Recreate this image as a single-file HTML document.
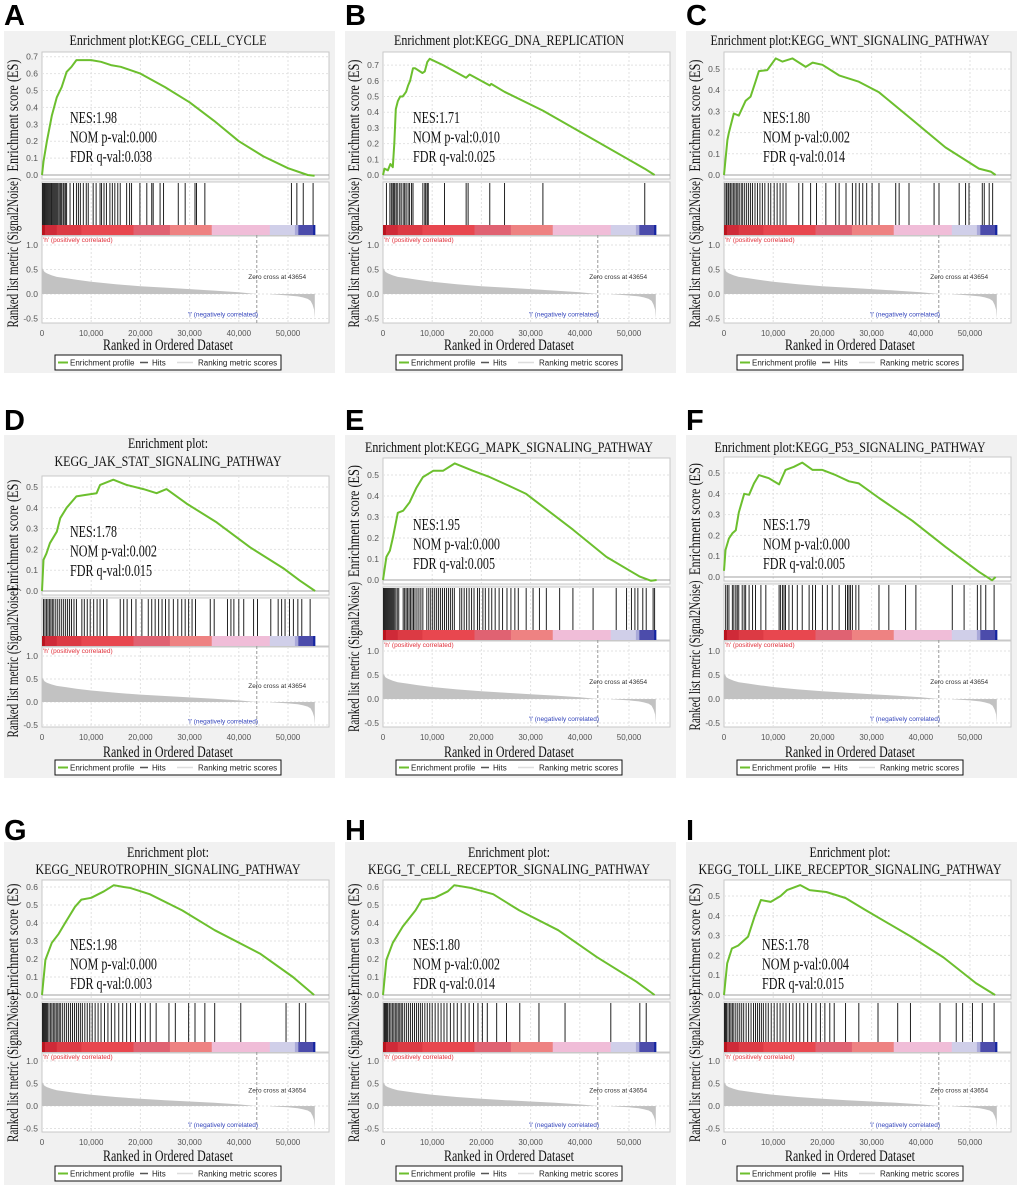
<!DOCTYPE html>
<html><head><meta charset="utf-8">
<style>
html,body{margin:0;padding:0;background:#fff;}
svg{display:block;}
</style></head>
<body>
<svg id="fig" xmlns="http://www.w3.org/2000/svg" width="1020" height="1187" viewBox="0 0 1020 1187"></svg>
<script>
// ===== shared data (ranks in thousands) =====
const xTickVals=[0,10,20,30,40,50];
const xTickLabels=['0','10,000','20,000','30,000','40,000','50,000'];
const rankTickVals=[1.0,0.5,0.0,-0.5];
const rankTickLabels=['1.0','0.5','0.0','-0.5'];
const metricPosRank=[0,0.2,0.5,1,2,3,5,7,10,15,20,25,30,35,40,43.654];
const metricPosVal=[0.55,0.5,0.45,0.42,0.38,0.35,0.32,0.29,0.25,0.2,0.16,0.13,0.1,0.07,0.035,0];
const metricNegRank=[46.4,48,50,52,53,54,54.6,55,55.3,55.45];
const metricNegVal=[-0.005,-0.015,-0.03,-0.05,-0.07,-0.1,-0.14,-0.22,-0.32,-0.5];
const zeroCross=43.654;
const barStart=[0,0.6,3,8,18.6,26,34.5,46.3,51.4,52.1,55.1];
const barEnd=[0.6,3,8,18.6,26,34.5,46.3,51.4,52.1,55.1,55.5];
const barColor=['#b8141e','#cf2a38','#dc3a44','#e8474f','#e06272','#ee8282','#f0bdd8','#d0cfe9','#a9a9d9','#4c4cab','#1424a0'];

// ===== panel data =====
const esA_rank=[0,0.3,1,2,3,4,5,6,7,8,10,12,14,16,18,20,25,30,35,40,45,50,54,55.4];
const esA_val=[0,0.08,0.2,0.35,0.46,0.52,0.61,0.64,0.68,0.68,0.68,0.67,0.65,0.64,0.62,0.6,0.52,0.43,0.32,0.2,0.11,0.04,0.0,-0.005];
const hitsA=[0.1,0.3,0.5,0.6,0.8,1.0,1.2,1.3,1.5,1.7,1.9,2.0,2.2,2.4,2.6,2.8,3.0,3.1,3.3,3.6,3.8,4.0,4.3,4.5,4.8,5.0,5.7,6.4,7.0,7.4,7.8,8.4,9.0,9.4,10.4,11.0,11.8,12.1,12.6,13.1,13.8,14.3,14.8,15.4,15.9,17.2,17.8,18.2,19.9,21.3,22.3,22.6,24.0,24.7,27.7,29.1,31.1,31.4,33.1,50.7,51.8,53.1,55.1];

const esB_rank=[0,0.3,1,1.5,2,2.3,2.6,3,3.5,4,4.7,5.1,5.5,6.1,6.5,8,8.5,9,9.5,12.2,16.9,17.6,21.7,22,24.7,32.5,53.2,55.2];
const esB_val=[0,0.04,0.03,0.07,0.05,0.2,0.42,0.47,0.5,0.5,0.53,0.57,0.6,0.68,0.68,0.65,0.66,0.72,0.74,0.7,0.62,0.64,0.57,0.58,0.53,0.41,0.04,0];
const hitsB=[0.7,1.4,1.7,2.0,2.2,2.4,2.7,3.0,3.4,3.7,4.1,4.4,4.7,5.1,5.4,5.8,6.1,8.1,8.5,8.7,9.0,9.2,12.5,16.9,17.3,21.7,24.7,32.5,53.2];

const esC_rank=[0,0.7,1.0,2.0,3.0,4.4,5.4,6.4,7.1,8.8,10.5,11.9,13.9,16.6,18,20,23.4,27.4,31.5,38.3,45,51.8,54.2,55.2];
const esC_val=[0,0.165,0.2,0.29,0.28,0.35,0.37,0.44,0.49,0.495,0.55,0.535,0.55,0.51,0.53,0.52,0.47,0.44,0.39,0.26,0.13,0.03,0.016,0];
const hitsC=[0.2,0.5,0.8,1.0,1.3,1.6,1.9,2.2,2.5,2.8,3.1,3.5,3.8,4.2,4.6,5.0,5.4,5.8,6.3,6.8,7.3,7.8,8.3,9.0,9.5,10.2,10.8,11.4,12.0,12.6,15.2,16.0,17.6,18.8,20.7,22.7,23.4,24.8,26.1,26.8,27.5,28.2,29.0,30.1,31.5,34.9,35.6,37.6,42.7,43.7,47.8,49.1,49.8,52.5,52.9,53.9,54.6];

const esD_rank=[0,0.3,0.9,1.6,3.0,3.7,5.0,7.0,8.4,11.1,11.8,14.5,17.2,20.6,23.3,25.3,29.4,35.5,42.3,49,52.4,55.5];
const esD_val=[0,0.15,0.18,0.23,0.285,0.35,0.4,0.455,0.46,0.47,0.51,0.535,0.51,0.49,0.47,0.49,0.42,0.33,0.21,0.11,0.05,0];
const hitsD=[0.3,0.6,0.9,1.2,1.5,1.8,2.1,2.4,2.8,3.2,3.6,4.0,4.4,4.8,5.2,5.6,6.0,6.5,7.0,8.1,8.6,9.2,9.8,10.5,11.2,11.8,12.5,13.2,15.9,16.6,17.3,18.2,19.1,20.3,21.6,22.3,23.0,23.7,24.4,25.1,25.8,26.7,27.6,28.4,29.1,29.8,30.5,31.2,34.2,35.0,37.7,38.4,39.0,40.0,41.0,43.0,43.8,46.5,48.0,48.7,49.4,50.3,51.1,52.0,52.8,54.5];

const esE_rank=[0,0.7,1.4,2.0,3.0,4.1,5.4,6.8,8.1,10.2,12.2,14.6,18.3,21.7,26.4,29.1,38.6,45.4,52.2,54.5,55.6];
const esE_val=[0,0.11,0.14,0.2,0.32,0.33,0.37,0.44,0.49,0.52,0.52,0.555,0.52,0.49,0.44,0.41,0.24,0.11,0.016,-0.004,0];
const hitsE=[0.1,0.3,0.5,0.7,0.9,1.1,1.3,1.5,1.7,1.9,2.1,2.3,2.6,2.9,3.2,4.1,4.4,4.7,5.0,5.3,5.6,5.9,6.2,6.5,6.9,7.3,7.7,8.1,8.9,9.3,9.7,10.1,10.5,10.9,11.3,11.7,12.1,12.5,12.9,13.3,13.7,14.1,14.5,15.6,16.0,16.5,17.0,17.5,18.0,18.5,19.2,19.6,20.3,20.8,21.5,22.1,22.8,23.6,24.3,25.2,26.0,26.8,27.5,29.1,30.5,31.8,33.2,35.9,38.6,42.7,47.4,49.5,50.5,51.2,51.8,52.8,53.5,54.9,55.2];

const esF_rank=[0,0.3,1.0,1.7,2.4,3.0,4.1,5.1,6.1,7.1,9.1,11.2,12.5,14.2,15.9,18,20,22.7,25.4,27.4,31.5,38.3,45,51.8,54.5,55.2];
const esF_val=[0.03,0.13,0.185,0.21,0.225,0.31,0.4,0.395,0.45,0.49,0.475,0.445,0.515,0.53,0.55,0.515,0.515,0.49,0.46,0.45,0.38,0.27,0.145,0.025,-0.016,0];
const hitsF=[0.34,0.68,1.0,1.7,2.0,2.4,2.7,3.0,3.7,4.1,4.4,5.1,5.8,6.4,7.5,8.5,11.2,11.5,11.9,12.2,12.5,13.2,13.9,14.9,15.9,17.3,18.0,18.6,20.0,21.0,22.0,23.4,24.7,25.1,25.4,25.7,26.1,26.8,27.4,31.5,33.5,36.9,39.0,46.4,48.8,51.5,52.2,53.2,54.9];

const esG_rank=[0,0.7,2.0,3.4,4.7,6.7,8.0,10,12.6,14.6,16.6,17.9,21.9,28.5,35.1,44.3,51,55.3];
const esG_val=[0,0.195,0.29,0.34,0.4,0.49,0.53,0.54,0.576,0.61,0.6,0.595,0.56,0.47,0.36,0.23,0.1,0];
const hitsG=[0.1,0.3,0.5,0.7,0.9,1.1,1.4,1.7,2.0,2.3,2.6,2.9,3.2,3.5,3.8,4.2,4.6,5.0,5.4,5.8,6.2,6.6,7.0,7.4,7.8,8.2,8.7,9.2,9.7,10.2,10.8,11.4,12.0,12.7,13.4,14.1,14.8,15.6,16.4,17.2,18.0,19.0,20.0,21.0,22.0,23.2,25.8,27.1,29.8,31.1,33.1,35.1,40.4,49.6,52.3,53.6];

const esH_rank=[0,0.7,2.0,4.0,6.6,7.9,10.5,13.2,14.5,17.8,22.4,27.7,35.6,43.5,51.5,55.2];
const esH_val=[0,0.195,0.29,0.38,0.47,0.53,0.54,0.576,0.61,0.595,0.56,0.47,0.36,0.21,0.074,0];
const hitsH=[0.2,0.4,0.6,0.8,1.0,1.3,1.6,1.9,2.2,2.5,2.8,3.1,3.4,3.7,4.0,4.4,4.8,5.2,5.6,6.0,6.4,6.8,7.2,7.6,8.0,8.5,9.0,9.5,10.0,10.6,11.2,11.8,12.4,13.0,13.7,14.4,15.1,15.9,16.7,17.5,18.4,19.3,20.2,21.2,23.1,25.1,27.8,31.7,37.0,46.3,52.2,53.5];

const esI_rank=[0,0.66,1.6,2.9,4.9,6.2,7.5,9.5,11.5,12.8,15.5,17.4,20.8,24.7,28.7,38,44.6,51.2,55.1];
const esI_val=[0,0.16,0.235,0.25,0.295,0.395,0.48,0.47,0.5,0.53,0.555,0.53,0.52,0.49,0.43,0.295,0.19,0.06,0];
const hitsI=[0.1,0.3,0.5,0.8,1.1,1.4,1.7,2.0,2.4,2.8,3.2,3.6,4.0,4.5,5.0,5.5,6.0,6.4,6.8,7.2,7.6,8.0,8.5,9.0,9.6,10.2,10.8,11.4,12.0,12.6,13.3,14.0,14.7,15.4,16.2,17.0,17.8,18.7,19.6,20.5,21.5,22.4,24.7,27.4,31.3,35.3,37.9,43.9,47.2,48.5,50.5,52.5,54.9];

const statsNES=['1.98','1.71','1.80','1.78','1.95','1.79','1.98','1.80','1.78'];
const statsNOM=['0.000','0.010','0.002','0.002','0.000','0.000','0.000','0.002','0.004'];
const statsFDR=['0.038','0.025','0.014','0.015','0.005','0.005','0.003','0.014','0.015'];

// ===== layout =====
const rowLayout=[
 {bgTop:31,bgBot:373,titleY:[45],rankBot:323,xlabY:336,xtitleY:350,legTop:355,nesY:123,letterY:25},
 {bgTop:435,bgBot:778,titleY:[452],rankBot:727,xlabY:740,xtitleY:757,legTop:760,nesY:530,letterY:430},
 {bgTop:842,bgBot:1185,titleY:[857,874],rankBot:1132,xlabY:1145,xtitleY:1161,legTop:1166,nesY:950,letterY:840}
];
const panels=[
 {L:'A',col:0,row:0,title:['Enrichment plot:KEGG_CELL_CYCLE'],tw:[197],esTop:52,zero:175,ppu:169,maxTick:0.7,barTop:225,rank0:294,rppu:49,nesX:70,es:[esA_rank,esA_val],hits:hitsA},
 {L:'B',col:1,row:0,title:['Enrichment plot:KEGG_DNA_REPLICATION'],tw:[230],esTop:52,zero:175,ppu:157,maxTick:0.7,barTop:225,rank0:294,rppu:49,nesX:72,es:[esB_rank,esB_val],hits:hitsB},
 {L:'C',col:2,row:0,title:['Enrichment plot:KEGG_WNT_SIGNALING_PATHWAY'],tw:[279],esTop:52,zero:175,ppu:212,maxTick:0.5,barTop:225,rank0:294,rppu:49,nesX:81,es:[esC_rank,esC_val],hits:hitsC},
 {L:'D',col:0,row:1,title:['Enrichment plot:','KEGG_JAK_STAT_SIGNALING_PATHWAY'],tw:[80,227],ty:[448,466],esTop:476,zero:591,ppu:208,maxTick:0.5,barTop:636,rank0:702,rppu:46,nesX:70,nesY:537,es:[esD_rank,esD_val],hits:hitsD},
 {L:'E',col:1,row:1,title:['Enrichment plot:KEGG_MAPK_SIGNALING_PATHWAY'],tw:[288],esTop:458,zero:580,ppu:210,maxTick:0.5,barTop:630,rank0:699,rppu:48,nesX:72,es:[esE_rank,esE_val],hits:hitsE},
 {L:'F',col:2,row:1,title:['Enrichment plot:KEGG_P53_SIGNALING_PATHWAY'],tw:[271],esTop:457,zero:577,ppu:208,maxTick:0.5,barTop:630,rank0:699,rppu:48,nesX:81,es:[esF_rank,esF_val],hits:hitsF},
 {L:'G',col:0,row:2,title:['Enrichment plot:','KEGG_NEUROTROPHIN_SIGNALING_PATHWAY'],tw:[82,265],esTop:880,zero:995,ppu:180,maxTick:0.6,barTop:1042,rank0:1106,rppu:45,nesX:70,es:[esG_rank,esG_val],hits:hitsG},
 {L:'H',col:1,row:2,title:['Enrichment plot:','KEGG_T_CELL_RECEPTOR_SIGNALING_PATHWAY'],tw:[82,282],esTop:880,zero:995,ppu:180,maxTick:0.6,barTop:1042,rank0:1106,rppu:45,nesX:72,es:[esH_rank,esH_val],hits:hitsH},
 {L:'I',col:2,row:2,title:['Enrichment plot:','KEGG_TOLL_LIKE_RECEPTOR_SIGNALING_PATHWAY'],tw:[81,303],esTop:880,zero:995,ppu:198,maxTick:0.5,barTop:1042,rank0:1106,rppu:45,nesX:80,es:[esI_rank,esI_val],hits:hitsI}
];
const colX=[0,341,682];

const NS='http://www.w3.org/2000/svg';
const svg=document.getElementById('fig');
function mk(tag,parent,attrs){const e=document.createElementNS(NS,tag);for(const k in attrs)e.setAttribute(k,attrs[k]);parent.appendChild(e);return e;}
function txt(parent,s,attrs){const e=mk('text',parent,attrs);e.textContent=s;return e;}

const SERIF='"Liberation Serif", serif', SANS='"Liberation Sans", sans-serif';

panels.forEach((p,pi)=>{
 const R=rowLayout[p.row], ox=colX[p.col];
 const L=ox+42, Rt=ox+329;
 const xs=r=>L+r*4.92;
 const ye=v=>p.zero-v*p.ppu;
 const yr=v=>p.rank0-v*p.rppu;
 const g=mk('g',svg,{});
 
 

 const lt=txt(g,p.L,{x:ox+4,y:R.letterY,'font-family':SANS,'font-weight':'bold','font-size':29,fill:'#000'});
 
 

 const bg=mk('rect',g,{x:ox+4,y:R.bgTop,width:331,height:R.bgBot-R.bgTop,fill:'#f1f1f1'});
 
 

 p.title.forEach((t,i)=>{
  const ty=p.ty?p.ty[i]:R.titleY[i];
  const te=txt(g,t,{x:ox+168,y:ty,'text-anchor':'middle','font-family':SERIF,'font-size':15,textLength:p.tw[i],lengthAdjust:'spacingAndGlyphs',fill:'#111'});
  
  
 });

 const esBot=p.zero+4, hitsTop=p.zero+7, barBot=p.barTop+10, rTop=barBot+1;
 const pe=mk('rect',g,{x:L,y:p.esTop,width:Rt-L,height:esBot-p.esTop,fill:'#fff',stroke:'#c8c8c8','stroke-width':1});
 
 
 const ph=mk('rect',g,{x:L,y:hitsTop,width:Rt-L,height:barBot-hitsTop,fill:'#fff',stroke:'#c8c8c8','stroke-width':1});
 
 
 const pr=mk('rect',g,{x:L,y:rTop,width:Rt-L,height:R.rankBot-rTop,fill:'#fff',stroke:'#c8c8c8','stroke-width':1});
 
 

 xTickVals.forEach(v=>{if(v===0)return;
  [[p.esTop,esBot],[hitsTop,p.barTop],[rTop,R.rankBot]].forEach(s=>{
   const gl=mk('line',g,{x1:xs(v),x2:xs(v),y1:s[0],y2:s[1],stroke:'#e2e2e2','stroke-dasharray':'2,2'});
   
   
  });
 });
 for(let i=1;i*0.1<=p.maxTick+1e-9;i++){
  const gl=mk('line',g,{x1:L,x2:Rt,y1:ye(i*0.1),y2:ye(i*0.1),stroke:'#e2e2e2','stroke-dasharray':'2,2'});
  
  
 }
 rankTickVals.forEach(v=>{
  const gl=mk('line',g,{x1:L,x2:Rt,y1:yr(v),y2:yr(v),stroke:'#e2e2e2','stroke-dasharray':'2,2'});
  
  
 });
 const zl=mk('line',g,{x1:L,x2:Rt,y1:ye(0),y2:ye(0),stroke:'#a0a0a0'});
 
 

 for(let i=0;i*0.1<=p.maxTick+1e-9;i++){
  const t=txt(g,(i*0.1).toFixed(1),{x:L-4,y:ye(i*0.1)+3,'text-anchor':'end','font-family':SANS,'font-size':8.5,fill:'#555'});
  
  
 }
 rankTickVals.forEach((v,i)=>{
  const t=txt(g,rankTickLabels[i],{x:L-4,y:yr(v)+3,'text-anchor':'end','font-family':SANS,'font-size':8.5,fill:'#555'});
  
  
 });
 xTickVals.forEach((v,i)=>{
  const t=txt(g,xTickLabels[i],{x:xs(v),y:R.xlabY,'text-anchor':'middle','font-family':SANS,'font-size':8,fill:'#555'});
  
  
 });

 const [er,ev]=p.es;
 let d='';er.forEach((r,i)=>{d+=(i?'L':'M')+xs(r).toFixed(1)+','+ye(ev[i]).toFixed(1);});
 const ep=mk('path',g,{d:d,fill:'none',stroke:'#6cbf2e','stroke-width':2,'stroke-linejoin':'round'});
 
 

 p.hits.forEach(h=>{
  const hl=mk('line',g,{x1:xs(h),x2:xs(h),y1:hitsTop+1,y2:p.barTop,stroke:'#222','stroke-width':1});
  
  
 });

 barStart.forEach((s,i)=>{
  const br=mk('rect',g,{x:xs(s),y:p.barTop,width:xs(barEnd[i])-xs(s)+0.3,height:10,fill:barColor[i]});
  
  
 });
 const hp=txt(g,"'h' (positively correlated)",{x:L+1,y:barBot+7,'font-family':SANS,'font-size':6.5,fill:'#e0303a'});
 
 

 let m='M'+xs(metricPosRank[0])+','+yr(0);
 metricPosRank.forEach((r,i)=>{m+='L'+xs(r).toFixed(1)+','+yr(metricPosVal[i]).toFixed(1);});
 m+='Z M'+xs(metricNegRank[0])+','+yr(0);
 metricNegRank.forEach((r,i)=>{m+='L'+xs(r).toFixed(1)+','+yr(metricNegVal[i]).toFixed(1);});
 m+='L'+xs(metricNegRank[metricNegRank.length-1]).toFixed(1)+','+yr(0)+'Z';
 const ma=mk('path',g,{d:m,fill:'#c2c2c2'});
 
 
 const zc=mk('line',g,{x1:xs(zeroCross),x2:xs(zeroCross),y1:barBot,y2:R.rankBot,stroke:'#999','stroke-dasharray':'3,2'});
 
 
 const zt=txt(g,'Zero cross at 43654',{x:xs(47.8),y:yr(0.35)+2,'text-anchor':'middle','font-family':SANS,'font-size':6.5,fill:'#333'});
 
 
 const nl=txt(g,"'l' (negatively correlated)",{x:xs(36.8),y:yr(-0.42)+2,'text-anchor':'middle','font-family':SANS,'font-size':6.5,fill:'#3344bb'});
 
 

 const ny=p.nesY||R.nesY;
 const s1=txt(g,'NES:'+statsNES[pi],{x:ox+p.nesX,y:ny,'font-family':SERIF,'font-size':17,textLength:47,lengthAdjust:'spacingAndGlyphs',fill:'#111'});
 
 
 const s2=txt(g,'NOM p-val:'+statsNOM[pi],{x:ox+p.nesX,y:ny+19.5,'font-family':SERIF,'font-size':17,textLength:87,lengthAdjust:'spacingAndGlyphs',fill:'#111'});
 
 
 const s3=txt(g,'FDR q-val:'+statsFDR[pi],{x:ox+p.nesX,y:ny+39,'font-family':SERIF,'font-size':17,textLength:82,lengthAdjust:'spacingAndGlyphs',fill:'#111'});
 
 

 const esMid=(p.esTop+esBot)/2;
 const yt1=txt(g,'Enrichment score (ES)',{x:0,y:0,transform:'translate('+(ox+18)+','+esMid+') rotate(-90)','text-anchor':'middle','font-family':SERIF,'font-size':16,textLength:112,lengthAdjust:'spacingAndGlyphs',fill:'#111'});
 
 
 const yt2=txt(g,'Ranked list metric (Signal2Noise)',{x:0,y:0,transform:'translate('+(ox+18)+','+(hitsTop+R.rankBot)/2+') rotate(-90)','text-anchor':'middle','font-family':SERIF,'font-size':16,textLength:150,lengthAdjust:'spacingAndGlyphs',fill:'#111'});
 
 
 const xt=txt(g,'Ranked in Ordered Dataset',{x:ox+168,y:R.xtitleY,'text-anchor':'middle','font-family':SERIF,'font-size':16,textLength:130,lengthAdjust:'spacingAndGlyphs',fill:'#111'});
 
 

 const lg=mk('g',g,{});
 
 
 const ly=R.legTop;
 mk('rect',lg,{x:ox+55,y:ly,width:226,height:15,fill:'#fff',stroke:'#111','stroke-width':1});
 const l1=mk('line',lg,{x1:ox+58,x2:ox+68,y1:ly+7.5,y2:ly+7.5,stroke:'#6cbf2e','stroke-width':2});
 
 
 const lt1=txt(lg,'Enrichment profile',{x:ox+70,y:ly+10.5,'font-family':SANS,'font-size':8,fill:'#222'});
 
 
 const l2=mk('line',lg,{x1:ox+140,x2:ox+148,y1:ly+7.5,y2:ly+7.5,stroke:'#555','stroke-width':1.5});
 
 
 const lt2=txt(lg,'Hits',{x:ox+152,y:ly+10.5,'font-family':SANS,'font-size':8,fill:'#222'});
 
 
 const l3=mk('line',lg,{x1:ox+177,x2:ox+193,y1:ly+7.5,y2:ly+7.5,stroke:'#ddd','stroke-width':1.5});
 
 
 const lt3=txt(lg,'Ranking metric scores',{x:ox+198,y:ly+10.5,'font-family':SANS,'font-size':8,fill:'#222'});
 
 
});
</script>
</body></html>
